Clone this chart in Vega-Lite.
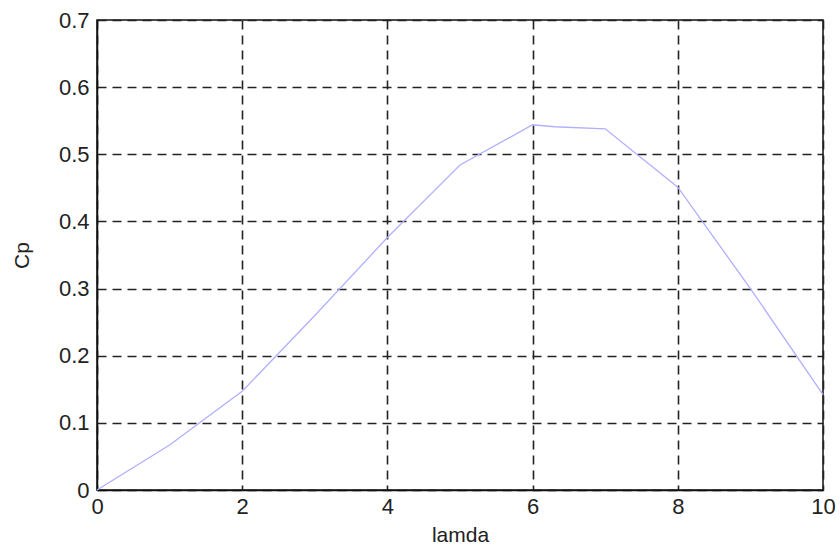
{
  "$schema": "https://vega.github.io/schema/vega-lite/v6.json",
  "width": 726,
  "height": 470,
  "autosize": {"type": "none"},
  "padding": {"left": 97, "top": 20, "right": 17, "bottom": 62},
  "background": "white",
  "config": {
    "view": {"stroke": "#111", "strokeWidth": 1.5},
    "axis": {
      "labelFont": "Liberation Sans",
      "titleFont": "Liberation Sans",
      "labelFontSize": 22,
      "titleFontSize": 21,
      "titleFontWeight": "normal",
      "labelColor": "#222",
      "titleColor": "#222",
      "domainColor": "#111",
      "domainWidth": 1.5,
      "gridColor": "#222",
      "gridOpacity": 1,
      "gridWidth": 1.6,
      "gridDash": [9, 6],
      "ticks": false
    }
  },
  "data": {
    "values": [
      {"lamda": 0, "Cp": 0},
      {"lamda": 1, "Cp": 0.067},
      {"lamda": 2, "Cp": 0.147},
      {"lamda": 3, "Cp": 0.26},
      {"lamda": 4, "Cp": 0.376},
      {"lamda": 5, "Cp": 0.484},
      {"lamda": 6, "Cp": 0.544},
      {"lamda": 6.3, "Cp": 0.541},
      {"lamda": 7, "Cp": 0.538},
      {"lamda": 8, "Cp": 0.451},
      {"lamda": 9, "Cp": 0.3},
      {"lamda": 10, "Cp": 0.142}
    ]
  },
  "mark": {"type": "line", "color": "#b0b0ff", "strokeWidth": 1.3},
  "encoding": {
    "x": {
      "field": "lamda",
      "type": "quantitative",
      "title": "lamda",
      "scale": {"domain": [0, 10], "nice": false},
      "axis": {"values": [0, 2, 4, 6, 8, 10], "labelPadding": 6, "titlePadding": 7, "labelFlush": false}
    },
    "y": {
      "field": "Cp",
      "type": "quantitative",
      "title": "Cp",
      "scale": {"domain": [0, 0.7], "nice": false},
      "axis": {"values": [0, 0.1, 0.2, 0.3, 0.4, 0.5, 0.6, 0.7], "labelPadding": 8, "titlePadding": 26, "labelFlush": false, "format": "~g"}
    }
  }
}
